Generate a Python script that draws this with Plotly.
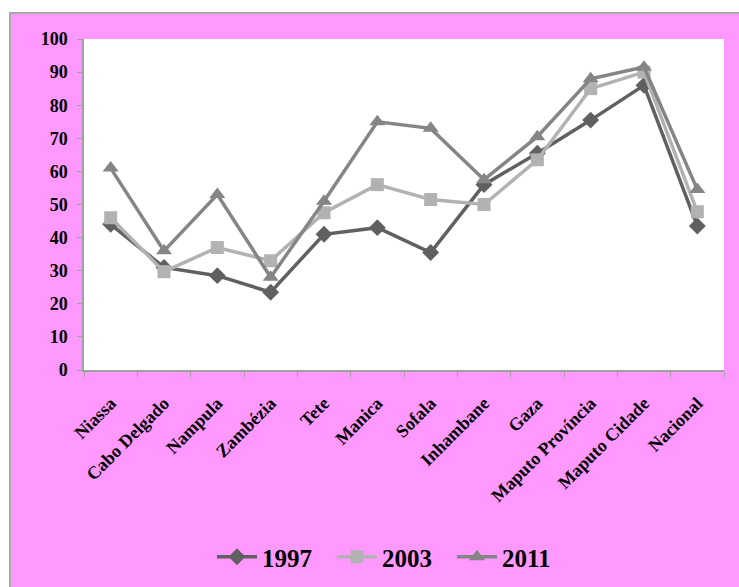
import plotly.graph_objects as go

categories = ["Niassa", "Cabo Delgado", "Nampula", "Zambézia", "Tete", "Manica",
              "Sofala", "Inhambane", "Gaza", "Maputo Província", "Maputo Cidade", "Nacional"]
v1997 = [44, 31, 28.5, 23.5, 41, 43, 35.5, 56, 65.5, 75.5, 86, 43.5]
v2003 = [46, 29.7, 37, 33, 47.5, 56, 51.5, 50, 63.5, 85, 90, 47.8]
v2011 = [61, 36, 53, 28, 51, 75, 73, 57.5, 70.5, 88, 91.5, 54.5]

W, H = 739, 587
L, T, R, B = 84, 39, 724, 370

def px_x(p):
    return (p - L) / (R - L)

def px_y(p):
    return (B - p) / (B - T)

font_fam = "Liberation Serif"
fig = go.Figure()
series = [
    ("1997", v1997, "#606060", "diamond", 13),
    ("2003", v2003, "#b2b2b2", "square", 13),
    ("2011", v2011, "#858585", "triangle-up", 14),
]
for name, vals, col, sym, sz in series:
    fig.add_trace(go.Scatter(
        x=categories, y=vals, name=name, mode="lines+markers",
        line=dict(color=col, width=3.5),
        marker=dict(symbol=sym, size=sz, color=col),
    ))

fig.update_layout(
    width=W, height=H,
    margin=dict(l=L, r=W - R, t=T, b=H - B, autoexpand=False),
    paper_bgcolor="white",
    plot_bgcolor="white",
    font=dict(family=font_fam, color="black"),
    shapes=[
        dict(type="rect", xref="paper", yref="paper", layer="below",
             x0=px_x(10), x1=px_x(760), y0=px_y(13), y1=px_y(600),
             fillcolor="#ff99ff", line=dict(color="#a8a8a8", width=2)),
        dict(type="rect", xref="paper", yref="paper", layer="below",
             x0=0, x1=1, y0=0, y1=1, fillcolor="white", line=dict(width=0)),
    ],
    legend=dict(orientation="h", x=px_x(392), xanchor="center", y=px_y(557), yanchor="middle",
                font=dict(family=font_fam, size=25, color="black", weight="bold"),
                bgcolor="rgba(0,0,0,0)", itemwidth=40, entrywidth=65, entrywidthmode="pixels"),
    showlegend=True,
)
fig.update_xaxes(
    type="category", range=[-0.5, 11.5], tickson="boundaries",
    ticks="outside", ticklen=5, tickcolor="#a0a0a0",
    showline=True, linecolor="#a0a0a0", linewidth=1.5, showgrid=False,
    tickangle=-45, ticklabelstandoff=14,
    tickfont=dict(family=font_fam, size=18, color="black", weight="bold"),
)
fig.update_yaxes(
    range=[0, 100], dtick=10, ticks="outside", ticklen=5, tickcolor="#a0a0a0",
    showline=True, linecolor="#a0a0a0", linewidth=1.5, showgrid=False, zeroline=False,
    ticklabelstandoff=6,
    tickfont=dict(family=font_fam, size=18, color="black", weight="bold"),
)
fig.write_html("out.html")
